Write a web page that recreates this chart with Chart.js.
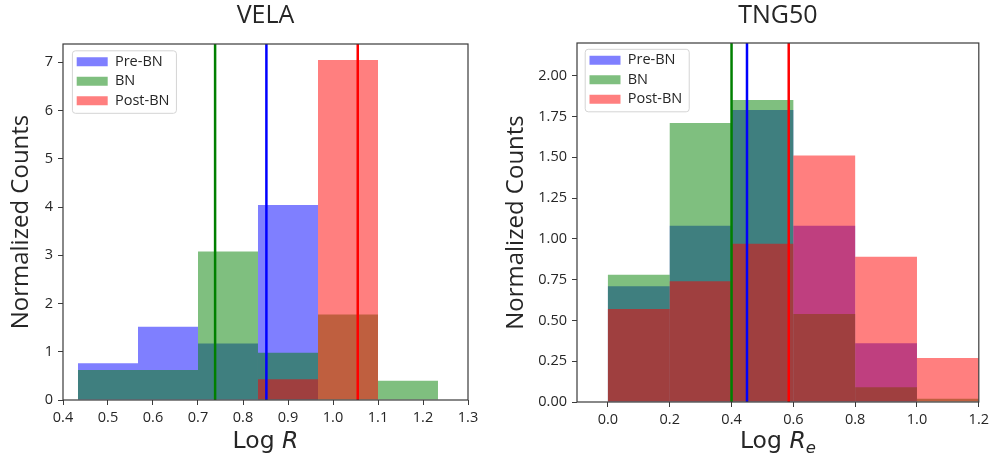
<!DOCTYPE html>
<html>
<head>
<meta charset="utf-8">
<script src="https://cdn.jsdelivr.net/npm/chart.js@4.4.1/dist/chart.umd.min.js"></script>
<style>
  body { margin: 0; background: #fff; }
  .wrap { position: relative; width: 993px; height: 460px; }
  canvas { position: absolute; top: 0; }
</style>
</head>
<body>
<div class="wrap">
  <canvas id="vela" width="496" height="460" style="left:0"></canvas>
  <canvas id="tng" width="497" height="460" style="left:496px"></canvas>
</div>
<script>
const SERIES = ["Pre-BN", "BN", "Post-BN"];

// VELA: histogram bins (density) and medians
const velaEdges = [0.4333, 0.5667, 0.7, 0.8333, 0.9667, 1.1, 1.2333];
const velaPre = [0.76, 1.52, 1.17, 4.04, 0, 0];
const velaBN = [0.62, 0.62, 3.08, 0.98, 1.77, 0.40];
const velaPost = [0, 0, 0, 0.43, 7.05, 0];
const velaMedians = [0.852, 0.738, 1.055];
const velaXTicks = [0.4, 0.5, 0.6, 0.7, 0.8, 0.9, 1.0, 1.1, 1.2, 1.3];
const velaYTicks = [0, 1, 2, 3, 4, 5, 6, 7];

// TNG50
const tngEdges = [0, 0.2, 0.4, 0.6, 0.8, 1.0, 1.2];
const tngPre = [0.71, 1.08, 1.79, 1.08, 0.36, 0];
const tngBN = [0.78, 1.71, 1.85, 0.54, 0.09, 0.02];
const tngPost = [0.57, 0.74, 0.97, 1.51, 0.89, 0.27];
const tngMedians = [0.45, 0.40, 0.585];
const tngXTicks = [0, 0.2, 0.4, 0.6, 0.8, 1.0, 1.2];
const tngYTicks = [0, 0.25, 0.5, 0.75, 1.0, 1.25, 1.5, 1.75, 2.0];

const FILL = ["rgba(0,0,255,0.5)", "rgba(0,128,0,0.5)", "rgba(255,0,0,0.5)"];
const LINE = ["#0000ff", "#008000", "#ff0000"];
const FONT = "'Open Sans', sans-serif";
const MATH_FONT = "'DejaVu Sans', sans-serif";
const TEXT = "#262626";
const AXIS = "#3a3a3a";

Chart.defaults.font.family = FONT;
Chart.defaults.color = TEXT;

// legend sits inside the plot, top left, with a light frame like matplotlib
const legendInside = {
  id: "legendInside",
  afterLayout(chart, args, opts) {
    const lg = chart.legend;
    const area = chart.chartArea;
    lg.left = area.left + opts.dx;
    lg.top = area.top + opts.dy;
    lg.right = area.right;
    lg.bottom = area.bottom;
  },
  beforeDraw(chart, args, opts) {
    const lg = chart.legend;
    const lab = chart.options.plugins.legend.labels;
    const font = Chart.helpers.toFont(lab.font);
    const ctx = chart.ctx;
    ctx.save();
    ctx.font = font.string;
    const textW = Math.max(...lg.legendItems.map((it) => ctx.measureText(it.text).width));
    const x = lg.left + 0.7;
    const y = lg.top + 1.3;
    const textX = lg.left + lab.padding + lab.boxWidth + font.size / 2;
    const w = textX - x + textW + 7;
    const h = lg.legendItems.length * (font.size + lab.padding) + 4;
    ctx.beginPath();
    ctx.roundRect(x, y, w, h, 3);
    ctx.fillStyle = "rgba(255,255,255,0.8)";
    ctx.fill();
    ctx.strokeStyle = "#d4d4d4";
    ctx.lineWidth = 1;
    ctx.stroke();
    ctx.restore();
  },
};

// full box around the axes
const frame = {
  id: "frame",
  afterDatasetsDraw(chart) {
    const { ctx, chartArea: a } = chart;
    ctx.save();
    ctx.strokeStyle = AXIS;
    ctx.lineWidth = 1.2;
    ctx.strokeRect(a.left, a.top, a.right - a.left, a.bottom - a.top);
    ctx.restore();
  },
};

// x label with math-style italic pieces (kept out of the options resolver)
function xTitle(pieces, offset) {
  return {
    id: "xTitle",
    afterDraw(chart) {
      const { ctx, chartArea: a } = chart;
      ctx.save();
      ctx.fillStyle = TEXT;
      ctx.textBaseline = "alphabetic";
      ctx.textAlign = "left";
      const fonts = pieces.map((p) => (p.italic ? "oblique " : "") + p.size + "px " + MATH_FONT);
      const widths = pieces.map((p, i) => {
        ctx.font = fonts[i];
        return ctx.measureText(p.text).width;
      });
      let x = (a.left + a.right) / 2 - widths.reduce((s, v) => s + v, 0) / 2;
      const y = a.bottom + offset;
      pieces.forEach((p, i) => {
        ctx.font = fonts[i];
        ctx.fillText(p.text, x, y + (p.shift || 0));
        x += widths[i];
      });
      ctx.restore();
    },
  };
}

function centers(edges) {
  return edges.slice(0, -1).map((e, i) => (e + edges[i + 1]) / 2);
}

function makeChart(id, c) {
  const mids = centers(c.edges);
  const bars = [c.pre, c.bn, c.post].map((vals, s) => ({
    type: "bar",
    label: SERIES[s],
    data: vals.map((v, i) => ({ x: mids[i], y: v })),
    backgroundColor: FILL[s],
    borderWidth: 0,
    inflateAmount: 0,
    stack: "hist",
    barThickness: "flex",
    barPercentage: 1,
    categoryPercentage: 1,
    order: 3 - s,
  }));
  const lines = c.medians.map((m, s) => ({
    type: "line",
    label: SERIES[s] + " median",
    data: [{ x: m, y: 0 }, { x: m, y: c.yMax }],
    borderColor: LINE[s],
    borderWidth: 2.5,
    pointRadius: 0,
    order: 0,
  }));

  const tickFont = { family: FONT, size: 14.5 };
  const grid = { drawOnChartArea: false, drawTicks: true, tickLength: 5, color: AXIS, offset: false };

  return new Chart(document.getElementById(id), {
    type: "bar",
    data: { datasets: [...bars, ...lines] },
    plugins: [legendInside, frame, xTitle(c.xLabel, c.xLabelOffset)],
    options: {
      responsive: false,
      animation: false,
      events: [],
      layout: { padding: { left: 0, right: c.padRight, top: 0, bottom: 0 } },
      scales: {
        x: {
          type: "linear",
          min: c.xMin,
          max: c.xMax,
          offset: false,
          bounds: "data",
          grid: grid,
          border: { display: false },
          ticks: {
            autoSkip: false,
            maxRotation: 0,
            padding: 4,
            color: TEXT,
            font: tickFont,
            callback: (v) => v.toFixed(1),
          },
          afterBuildTicks: (s) => {
            s.ticks = c.xTicks.map((v) => ({ value: v }));
          },
          afterFit: (s) => {
            s.height = c.axisH;
          },
        },
        y: {
          type: "linear",
          min: 0,
          max: c.yMax,
          stacked: false,
          bounds: "data",
          grid: grid,
          border: { display: false },
          ticks: {
            autoSkip: false,
            padding: 5,
            color: TEXT,
            font: tickFont,
            callback: (v) => v.toFixed(c.yDigits),
          },
          afterBuildTicks: (s) => {
            s.ticks = c.yTicks.map((v) => ({ value: v }));
          },
          afterFit: (s) => {
            s.width = c.axisW;
          },
          title: {
            display: true,
            text: "Normalized Counts",
            color: TEXT,
            font: { family: FONT, size: 24 },
            padding: { top: c.yTitlePad, bottom: 0 },
          },
        },
      },
      plugins: {
        title: {
          display: true,
          text: c.title,
          color: TEXT,
          fullSize: false,
          font: { family: FONT, size: 25, weight: "normal" },
          padding: { top: 1, bottom: c.titlePadBottom },
        },
        legend: {
          position: "chartArea",
          align: "start",
          labels: {
            boxWidth: 31,
            boxHeight: 9,
            padding: 5,
            color: TEXT,
            font: { family: FONT, size: 14.5 },
            filter: (item, data) => data.datasets[item.datasetIndex].type === "bar",
            sort: (a, b) => a.datasetIndex - b.datasetIndex,
          },
        },
        tooltip: { enabled: false },
        legendInside: { dx: c.legendDx, dy: c.legendDy },
      },
    },
  });
}

makeChart("vela", {
  title: "VELA",
  edges: velaEdges,
  pre: velaPre,
  bn: velaBN,
  post: velaPost,
  medians: velaMedians,
  xTicks: velaXTicks,
  yTicks: velaYTicks,
  xMin: 0.4,
  xMax: 1.3,
  yMax: 7.38,
  yDigits: 0,
  axisW: 63,
  axisH: 60,
  padRight: 28,
  titlePadBottom: 13,
  yTitlePad: 7,
  legendDx: 8.7,
  legendDy: 5.5,
  xLabelOffset: 47.5,
  xLabel: [
    { text: "Log ", size: 23.5 },
    { text: "R", size: 23.5, italic: true },
  ],
});

makeChart("tng", {
  title: "TNG50",
  edges: tngEdges,
  pre: tngPre,
  bn: tngBN,
  post: tngPost,
  medians: tngMedians,
  xTicks: tngXTicks,
  yTicks: tngYTicks,
  xMin: -0.1,
  xMax: 1.2,
  yMax: 2.2,
  yDigits: 2,
  axisW: 81,
  axisH: 58,
  padRight: 12,
  titlePadBottom: 12,
  yTitlePad: 5.5,
  legendDx: 7.5,
  legendDy: 5,
  xLabelOffset: 45.5,
  xLabel: [
    { text: "Log ", size: 23.5 },
    { text: "R", size: 23.5, italic: true },
    { text: "e", size: 16.5, italic: true, shift: 5 },
  ],
});
</script>
</body>
</html>
